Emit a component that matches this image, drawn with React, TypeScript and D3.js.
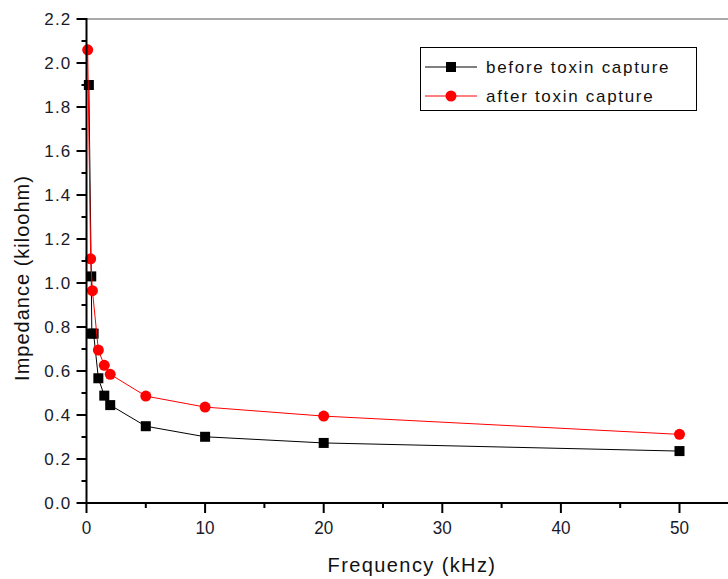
import React, { useEffect, useRef } from 'react';
import * as d3 from 'd3';

const W = 728;
const H = 579;
const M = { top: 19, left: 86.5, bottom: 76 };

// before toxin capture (black squares)
const beforeFreq = [0.2, 0.4, 0.45, 0.6, 1, 1.5, 2, 5, 10, 20, 50];
const beforeImp = [1.9, 1.03, 0.77, 0.77, 0.567, 0.488, 0.445, 0.349, 0.301, 0.273, 0.236];

// after toxin capture (red circles)
const afterFreq = [0.1, 0.35, 0.5, 1, 1.5, 2, 5, 10, 20, 50];
const afterImp = [2.06, 1.11, 0.965, 0.695, 0.626, 0.585, 0.486, 0.436, 0.395, 0.312];

const xTicks = [0, 10, 20, 30, 40, 50];
const xMinor = [5, 15, 25, 35, 45];
const yTicks = [0, 0.2, 0.4, 0.6, 0.8, 1.0, 1.2, 1.4, 1.6, 1.8, 2.0, 2.2];
const yMinor = [0.1, 0.3, 0.5, 0.7, 0.9, 1.1, 1.3, 1.5, 1.7, 1.9, 2.1];

const legendLabels = ['before toxin capture', 'after toxin capture'];

const FONT = '"Liberation Sans", Arial, sans-serif';

export default function App() {
  const ref = useRef<SVGSVGElement | null>(null);

  useEffect(() => {
    const svg = d3.select(ref.current);
    svg.selectAll('*').remove();

    const x = d3.scaleLinear().domain([0, 55]).range([M.left, M.left + 55 * 11.86]);
    const y = d3.scaleLinear().domain([0, 2.2]).range([H - M.bottom, M.top]);
    const x0 = x(0);
    const y0 = y(0);

    // top frame line
    svg.append('line')
      .attr('x1', x0).attr('x2', W).attr('y1', y(2.2)).attr('y2', y(2.2))
      .attr('stroke', '#555').attr('stroke-width', 1);

    // data
    const line = d3.line<[number, number]>().x((d) => x(d[0])).y((d) => y(d[1]));
    const before = beforeFreq.map((f, i) => [f, beforeImp[i]] as [number, number]);
    const after = afterFreq.map((f, i) => [f, afterImp[i]] as [number, number]);

    svg.append('path').attr('d', line(before)).attr('fill', 'none')
      .attr('stroke', '#000').attr('stroke-width', 1);
    svg.selectAll('rect.b').data(before).join('rect').attr('class', 'b')
      .attr('x', (d) => x(d[0]) - 5).attr('y', (d) => y(d[1]) - 5)
      .attr('width', 10).attr('height', 10).attr('fill', '#000');

    svg.append('path').attr('d', line(after)).attr('fill', 'none')
      .attr('stroke', '#ff0000').attr('stroke-width', 1);
    svg.selectAll('circle.a').data(after).join('circle').attr('class', 'a')
      .attr('cx', (d) => x(d[0])).attr('cy', (d) => y(d[1])).attr('r', 5.5)
      .attr('fill', '#ff0000');

    // y axis
    const ya = svg.append('g');
    ya.append('rect').attr('x', x0 - 1).attr('y', y(2.2) - 1).attr('width', 2)
      .attr('height', y0 - y(2.2) + 2).attr('fill', '#000');
    ya.selectAll('line.maj').data(yTicks).join('line').attr('class', 'maj')
      .attr('x1', x0 - 10).attr('x2', x0).attr('y1', (d) => y(d)).attr('y2', (d) => y(d))
      .attr('stroke', '#000').attr('stroke-width', 2);
    ya.selectAll('line.min').data(yMinor).join('line').attr('class', 'min')
      .attr('x1', x0 - 5).attr('x2', x0).attr('y1', (d) => y(d)).attr('y2', (d) => y(d))
      .attr('stroke', '#000').attr('stroke-width', 2);
    ya.selectAll('text').data(yTicks).join('text')
      .attr('x', x0 - 15).attr('y', (d) => y(d) + 6)
      .attr('text-anchor', 'end').attr('font-family', FONT).attr('font-size', 17)
      .attr('letter-spacing', 1.2)
      .attr('fill', '#1a1a2a').text((d) => d.toFixed(1));

    // x axis
    const xa = svg.append('g');
    xa.append('line').attr('x1', x0 - 1).attr('x2', W).attr('y1', y0).attr('y2', y0)
      .attr('stroke', '#000').attr('stroke-width', 2);
    xa.selectAll('line.maj').data(xTicks).join('line').attr('class', 'maj')
      .attr('x1', (d) => x(d)).attr('x2', (d) => x(d)).attr('y1', y0).attr('y2', y0 + 10)
      .attr('stroke', '#000').attr('stroke-width', 2);
    xa.selectAll('line.min').data(xMinor).join('line').attr('class', 'min')
      .attr('x1', (d) => x(d)).attr('x2', (d) => x(d)).attr('y1', y0).attr('y2', y0 + 5)
      .attr('stroke', '#000').attr('stroke-width', 2);
    xa.selectAll('text').data(xTicks).join('text')
      .attr('transform', (d) => `translate(${x(d)},${y0 + 31}) scale(0.9,1)`)
      .attr('text-anchor', 'middle').attr('font-family', FONT).attr('font-size', 19)
      .attr('fill', '#1a1a2a').text((d) => String(d));

    // axis titles
    svg.append('text')
      .attr('x', 412).attr('y', 572).attr('text-anchor', 'middle')
      .attr('font-family', FONT).attr('font-size', 20).attr('letter-spacing', 1.4)
      .attr('fill', '#111').text('Frequency (kHz)');
    svg.append('text')
      .attr('transform', `translate(29,${278}) rotate(-90)`).attr('text-anchor', 'middle')
      .attr('font-family', FONT).attr('font-size', 20).attr('letter-spacing', 1)
      .attr('fill', '#111').text('Impedance (kiloohm)');

    // legend
    const lg = svg.append('g');
    lg.append('rect').attr('x', 420.5).attr('y', 47.5).attr('width', 276).attr('height', 63)
      .attr('fill', '#fff').attr('stroke', '#000').attr('stroke-width', 1);
    const colors = ['#000', '#ff0000'];
    legendLabels.forEach((lab, i) => {
      const cy = 67 + i * 29;
      lg.append('line').attr('x1', 425).attr('x2', 477).attr('y1', cy).attr('y2', cy)
        .attr('stroke', colors[i]).attr('stroke-width', 1);
      if (i === 0) {
        lg.append('rect').attr('x', 446).attr('y', cy - 5).attr('width', 10).attr('height', 10).attr('fill', '#000');
      } else {
        lg.append('circle').attr('cx', 451).attr('cy', cy).attr('r', 5.5).attr('fill', '#ff0000');
      }
      lg.append('text').attr('x', 486).attr('y', cy + 6)
        .attr('font-family', FONT).attr('font-size', 17).attr('letter-spacing', 1.7)
        .attr('fill', '#111').text(lab);
    });
  }, []);

  return (
    <svg ref={ref} width={W} height={H}
      style={{ position: 'absolute', left: 0, top: 0, background: '#fff' }} />
  );
}
